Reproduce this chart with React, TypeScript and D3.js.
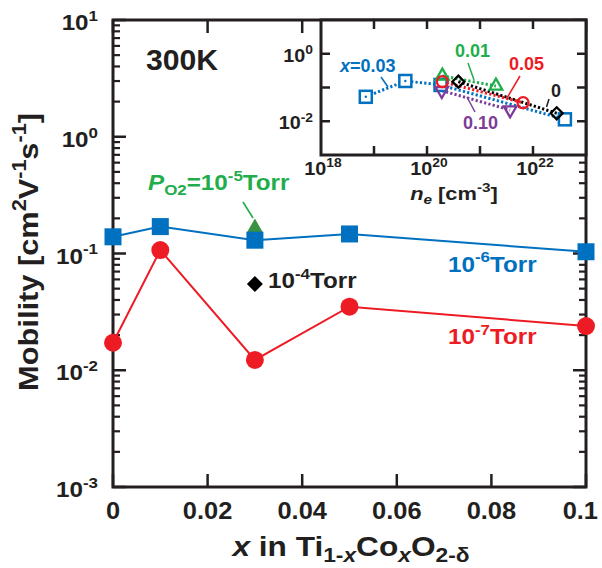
import React from "react";
import * as d3 from "d3";

// ---------- Data ----------
const xCategories = [0, 0.01, 0.03, 0.05, 0.1];
const mobility1e6 = [0.139, 0.170, 0.130, 0.147, 0.1035]; // 10^-6 Torr (blue squares)
const mobility1e7 = [0.0172, 0.107, 0.01225, 0.035, 0.0239]; // 10^-7 Torr (red circles)
const mobility1e5 = [{ x: 0.03, v: 0.165 }]; // 10^-5 Torr (green triangle)
const mobility1e4 = [{ x: 0.03, v: 0.0548 }]; // 10^-4 Torr (black diamond)

const xTicks = [0, 0.02, 0.04, 0.06, 0.08, 0.1];
const xTickLabels = ["0", "0.02", "0.04", "0.06", "0.08", "0.1"];
const yDecades = [-3, -2, -1, 0, 1];

// inset: carrier density n_e vs mobility, per Co content x
const insetX0ne = [3.9e20, 2.8e22];
const insetX0mu = [0.149, 0.0172];
const insetX001ne = [1.95e20, 2.0e21];
const insetX001mu = [0.22, 0.111];
const insetX003ne = [7e18, 3.9e19, 1.8e20, 4e22];
const insetX003mu = [0.053, 0.156, 0.119, 0.0114];
const insetX005ne = [1.95e20, 6.5e21];
const insetX005mu = [0.149, 0.0355];
const insetX010ne = [1.9e20, 3.7e21];
const insetX010mu = [0.0805, 0.0216];
const insetXTickExp = [19, 20, 21, 22];
const insetXLabelExp = [18, 20, 22];
const insetYTickExp = [0, -1, -2];
const insetYLabelExp = [0, -2];

// ---------- Style ----------
const FONT = "'Liberation Sans', Arial, Helvetica, sans-serif";
const DARK = "#231f20";
const BLUE = "#0070c0";
const RED = "#ed1c24";
const GREEN = "#1fae4b";
const DKGREEN = "#3a9142";
const PURPLE = "#7d3c98";
const SX = 1.1;

type Part = { t: string; s?: "sup" | "sub"; i?: boolean };

function Rich({ x, y, size, parts, fill = DARK, anchor = "start", rotate = 0, sx = SX, subScale = 0.7 }: {
  x: number; y: number; size: number; parts: Part[]; fill?: string; anchor?: string; rotate?: number; sx?: number; subScale?: number;
}) {
  let cur = 0;
  const small = size * subScale;
  return (
    <g transform={`translate(${x},${y}) rotate(${rotate}) scale(${sx},1)`}>
      <text x={0} y={0} fontFamily={FONT} fontWeight="bold" fontSize={size} fill={fill} textAnchor={anchor}>
        {parts.map((p, k) => {
          const target = p.s === "sup" ? -0.42 * size : p.s === "sub" ? 0.22 * size : 0;
          const dy = target - cur;
          cur = target;
          return (
            <tspan key={k} dy={dy} fontSize={p.s ? small : size} fontStyle={p.i ? "italic" : "normal"}>
              {p.t}
            </tspan>
          );
        })}
      </text>
    </g>
  );
}

export default function App() {
  const L = 113, R = 586, T = 20, B = 487;
  const x = d3.scaleLinear().domain([0, 0.1]).range([L, R]);
  const y = d3.scaleLog().domain([1e-3, 10]).range([B, T]);

  const IL = 321, IR = 586, IT = 20, IB = 155;
  const ix = d3.scaleLog().domain([1e18, 1e23]).range([IL, IR]);
  const iy = d3.scaleLog().domain([1e-3, 10]).range([IB, IT]);

  const line = d3.line<number>().x((_, k) => x(xCategories[k])).y((d) => y(d));

  const minor: number[] = [];
  for (let e = -3; e < 1; e++) for (let m = 2; m <= 9; m++) minor.push(m * Math.pow(10, e));

  const iline = (ne: number[], mu: number[]) =>
    d3.line<number>().x((d) => ix(d)).y((_, k) => iy(mu[k]))(ne) || "";

  const dotStyle = { strokeWidth: 3, strokeDasharray: "2.2 2.2", fill: "none" } as const;
  const sym = (type: d3.SymbolType, size: number) => d3.symbol().type(type).size(size)() || "";

  return (
    <svg width={602} height={568} style={{ position: "absolute", left: 0, top: 0 }}>
      <rect width={602} height={568} fill="white" />
      <rect x={L} y={T} width={R - L} height={B - T} fill="none" stroke={DARK} strokeWidth={3} />
      {xTicks.map((t, k) => (
        <g key={k}>
          <line x1={x(t)} x2={x(t)} y1={B} y2={B - 13} stroke={DARK} strokeWidth={2.5} />
          <line x1={x(t)} x2={x(t)} y1={T} y2={T + 13} stroke={DARK} strokeWidth={2.5} />
          <Rich x={k === xTicks.length - 1 ? 598 : x(t)} y={519} size={24} sx={1.06}
            anchor={k === xTicks.length - 1 ? "end" : "middle"} parts={[{ t: xTickLabels[k] }]} />
        </g>
      ))}
      {yDecades.map((e) => {
        const v = Math.pow(10, e);
        return (
          <g key={e}>
            <line x1={L} x2={L + 13} y1={y(v)} y2={y(v)} stroke={DARK} strokeWidth={2.5} />
            <line x1={R} x2={R - 13} y1={y(v)} y2={y(v)} stroke={DARK} strokeWidth={2.5} />
            <Rich x={98} y={y(v) + 10} size={22} anchor="end" parts={[{ t: "10" }, { t: String(e), s: "sup" }]} />
          </g>
        );
      })}
      {minor.map((v, k) => (
        <g key={k}>
          <line x1={L} x2={L + 7} y1={y(v)} y2={y(v)} stroke={DARK} strokeWidth={2.2} />
          <line x1={R} x2={R - 7} y1={y(v)} y2={y(v)} stroke={DARK} strokeWidth={2.2} />
        </g>
      ))}

      <path d={line(mobility1e6) || ""} fill="none" stroke={BLUE} strokeWidth={2} />
      <path d={line(mobility1e7) || ""} fill="none" stroke={RED} strokeWidth={2} />

      {mobility1e5.map((p, k) => (
        <path key={k} d={sym(d3.symbolTriangle, 120)} transform={`translate(${x(p.x)},${y(p.v)})`} fill={DKGREEN} />
      ))}
      {mobility1e6.map((v, k) => (
        <rect key={k} x={x(xCategories[k]) - 8.5} y={y(v) - 8.5} width={17} height={17} fill={BLUE} />
      ))}
      {mobility1e7.map((v, k) => (
        <circle key={k} cx={x(xCategories[k])} cy={y(v)} r={9} fill={RED} />
      ))}
      {mobility1e4.map((p, k) => (
        <path key={k} d="M0,-8L8,0L0,8L-8,0Z" transform={`translate(${x(p.x)},${y(p.v)})`} fill="#000" />
      ))}

      <Rich x={146} y={70} size={29} sx={1.04} parts={[{ t: "300K" }]} />
      <Rich x={148} y={190} size={22} fill={GREEN}
        parts={[{ t: "P", i: true }, { t: "O2", s: "sub" }, { t: "=10" }, { t: "-5", s: "sup" }, { t: "Torr" }]} />
      <line x1={243} y1={202} x2={253} y2={218} stroke={GREEN} strokeWidth={1.6} />
      <Rich x={268} y={288} size={22} fill={DARK} parts={[{ t: "10" }, { t: "-4", s: "sup" }, { t: "Torr" }]} />
      <Rich x={448} y={271.5} size={22} fill={BLUE} parts={[{ t: "10" }, { t: "-6", s: "sup" }, { t: "Torr" }]} />
      <Rich x={448} y={344} size={22} fill={RED} parts={[{ t: "10" }, { t: "-7", s: "sup" }, { t: "Torr" }]} />

      <Rich x={351} y={556} size={28} sx={1.13} subScale={0.72} anchor="middle"
        parts={[{ t: "x", i: true }, { t: " in Ti" }, { t: "1-", s: "sub" }, { t: "x", s: "sub", i: true }, { t: "Co" }, { t: "x", s: "sub", i: true }, { t: "O" }, { t: "2-δ", s: "sub" }]} />
      <Rich x={38} y={252} size={28} sx={1.1} anchor="middle" rotate={-90}
        parts={[{ t: "Mobility [cm" }, { t: "2", s: "sup" }, { t: "V" }, { t: "-1", s: "sup" }, { t: "s" }, { t: "-1", s: "sup" }, { t: "]" }]} />

      {/* ---------- inset ---------- */}
      <rect x={IL} y={IT} width={IR - IL} height={IB - IT} fill="white" stroke={DARK} strokeWidth={3} />
      {insetXTickExp.map((e) => {
        const px = ix(Math.pow(10, e));
        return (
          <g key={e}>
            <line x1={px} x2={px} y1={IB} y2={IB - 9} stroke={DARK} strokeWidth={2.5} />
            <line x1={px} x2={px} y1={IT} y2={IT + 9} stroke={DARK} strokeWidth={2.5} />
          </g>
        );
      })}
      {insetYTickExp.map((e) => {
        const py = iy(Math.pow(10, e));
        return (
          <g key={e}>
            <line x1={IL} x2={IL + 9} y1={py} y2={py} stroke={DARK} strokeWidth={2.5} />
            <line x1={IR} x2={IR - 9} y1={py} y2={py} stroke={DARK} strokeWidth={2.5} />
          </g>
        );
      })}
      {insetXLabelExp.map((e) => (
        <Rich key={e} x={ix(Math.pow(10, e)) + 2} y={175} size={18} anchor="middle" parts={[{ t: "10" }, { t: String(e), s: "sup" }]} />
      ))}
      {insetYLabelExp.map((e) => (
        <Rich key={e} x={313} y={iy(Math.pow(10, e)) + 8} size={18} anchor="end" parts={[{ t: "10" }, { t: String(e), s: "sup" }]} />
      ))}
      <Rich x={454} y={200} size={19} anchor="middle" sx={1.15}
        parts={[{ t: "n", i: true }, { t: "e", s: "sub", i: true }, { t: " [cm" }, { t: "-3", s: "sup" }, { t: "]" }]} />

      <path d={iline(insetX003ne, insetX003mu)} stroke={BLUE} {...dotStyle} />
      <path d={iline(insetX010ne, insetX010mu)} stroke={PURPLE} {...dotStyle} />
      <path d={iline(insetX001ne, insetX001mu)} stroke={GREEN} {...dotStyle} />
      <path d={iline(insetX0ne, insetX0mu)} stroke="#000" {...dotStyle} />
      <path d={iline(insetX005ne, insetX005mu)} stroke={RED} {...dotStyle} />

      {insetX003ne.map((ne, k) => (
        <g key={k} transform={`translate(${ix(ne)},${iy(insetX003mu[k])})`}>
          <rect x={-6} y={-6} width={12} height={12} fill="white" stroke={BLUE} strokeWidth={2.5} />
          {k < 2 && <circle r={1.2} fill={BLUE} />}
        </g>
      ))}
      {insetX010ne.map((ne, k) => (
        <path key={k} d={sym(d3.symbolTriangle, 70)} transform={`translate(${ix(ne)},${iy(insetX010mu[k])}) rotate(180)`}
          fill="none" stroke={PURPLE} strokeWidth={2.3} />
      ))}
      {insetX001ne.map((ne, k) => (
        <path key={k} d={sym(d3.symbolTriangle, 70)} transform={`translate(${ix(ne)},${iy(insetX001mu[k])})`}
          fill="none" stroke={GREEN} strokeWidth={2.3} />
      ))}
      {insetX0ne.map((ne, k) => (
        <path key={k} d="M0,-6L6,0L0,6L-6,0Z" transform={`translate(${ix(ne)},${iy(insetX0mu[k])})`}
          fill="none" stroke="#000" strokeWidth={2.3} />
      ))}
      {insetX005ne.map((ne, k) => (
        <circle key={k} cx={ix(ne)} cy={iy(insetX005mu[k])} r={5.5} fill="none" stroke={RED} strokeWidth={2.3} />
      ))}

      <Rich x={340} y={71.5} size={18} sx={1.0} fill={BLUE} parts={[{ t: "x", i: true }, { t: "=0.03" }]} />
      <line x1={381} y1={77} x2={388} y2={87} stroke={BLUE} strokeWidth={1.5} />
      <Rich x={455} y={56.5} size={18} sx={1.0} fill={GREEN} parts={[{ t: "0.01" }]} />
      <line x1={468} y1={63} x2={474} y2={80} stroke={GREEN} strokeWidth={1.5} />
      <Rich x={509} y={70} size={18} sx={1.0} fill={RED} parts={[{ t: "0.05" }]} />
      <line x1={520} y1={76} x2={507} y2={98} stroke={RED} strokeWidth={1.5} />
      <Rich x={551} y={96.5} size={18} sx={1.0} fill={DARK} parts={[{ t: "0" }]} />
      <line x1={549} y1={99} x2={546.5} y2={107} stroke={DARK} strokeWidth={1.5} />
      <Rich x={463} y={129} size={18} sx={1.0} fill={PURPLE} parts={[{ t: "0.10" }]} />
      <line x1={467} y1={97} x2={475} y2={112} stroke={PURPLE} strokeWidth={1.5} />
    </svg>
  );
}
